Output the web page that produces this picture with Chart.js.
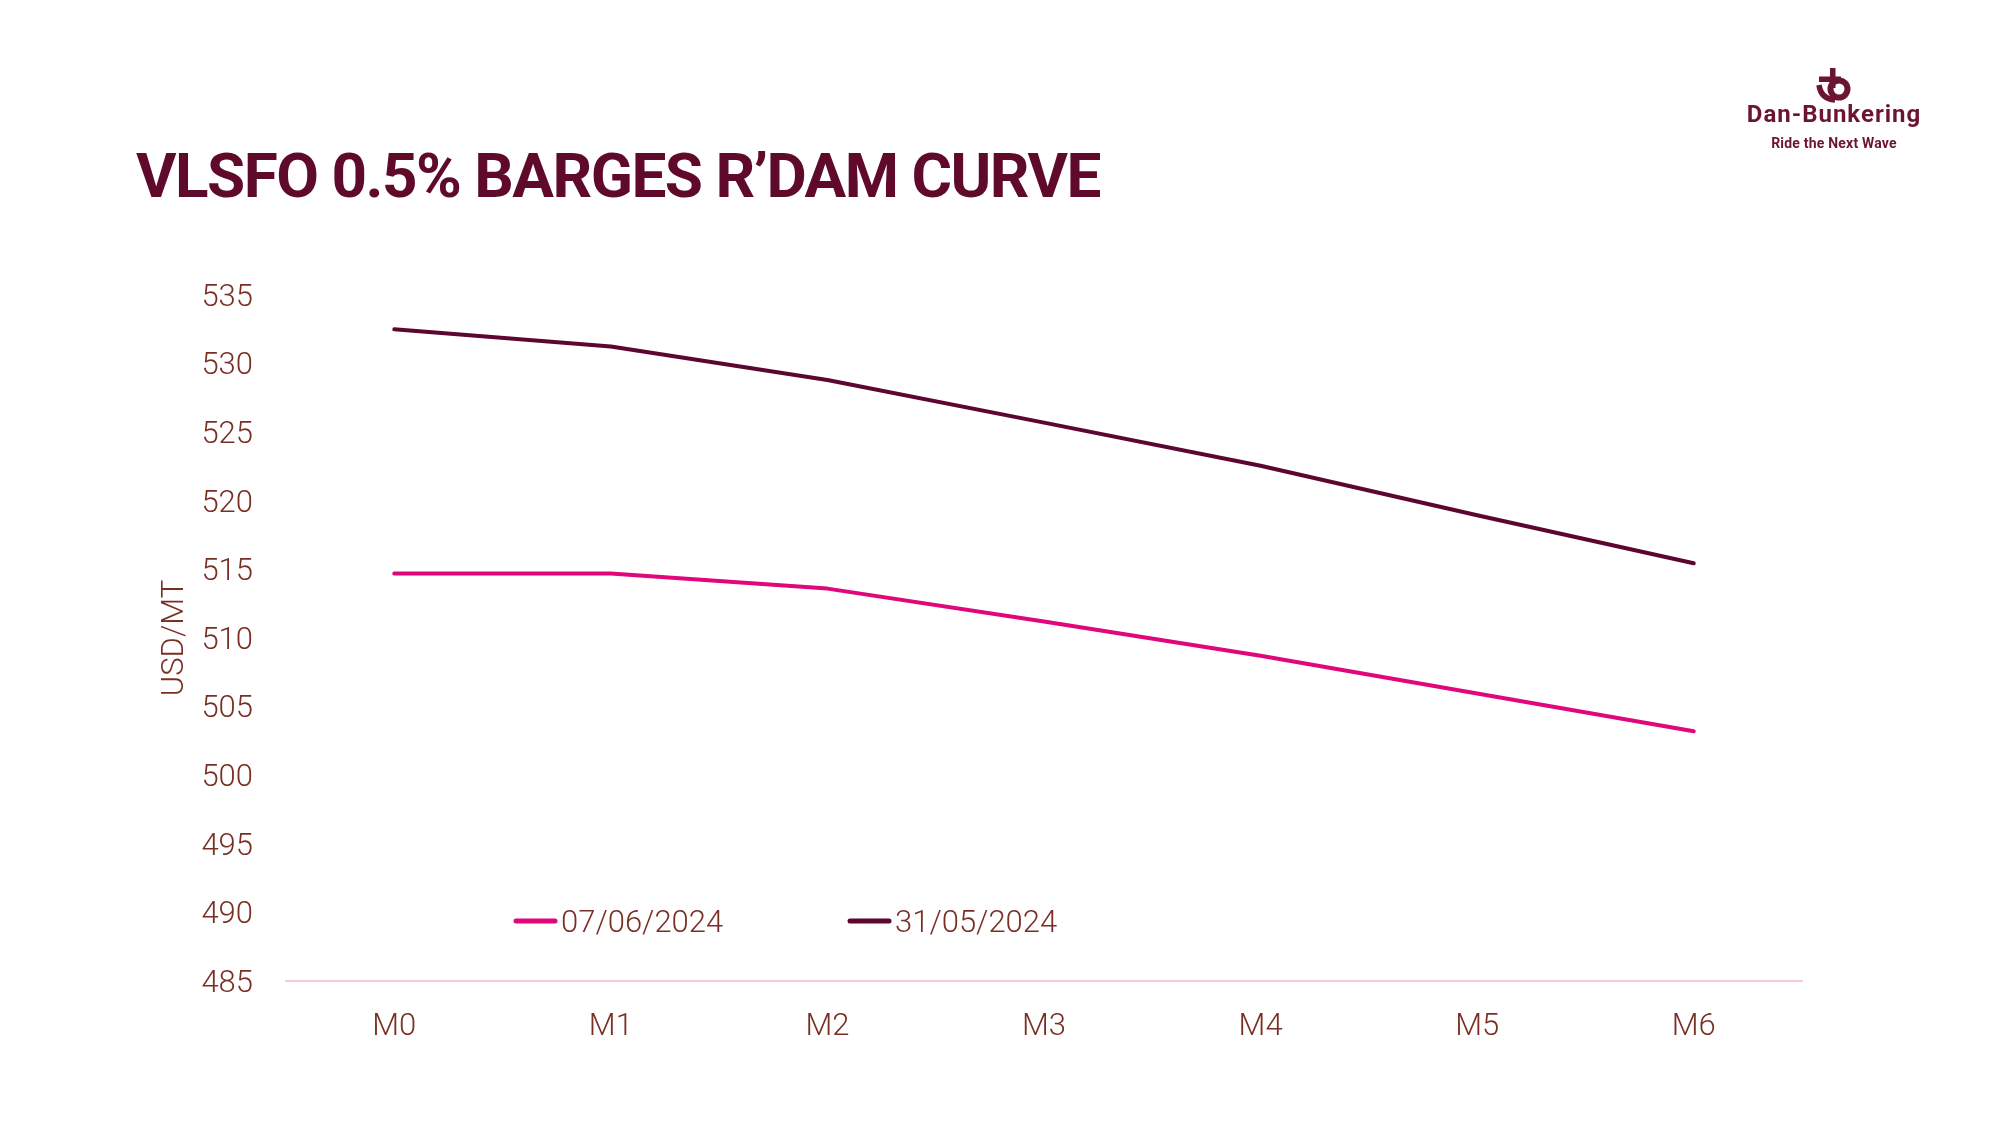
<!DOCTYPE html>
<html>
<head>
<meta charset="utf-8">
<title>VLSFO 0.5% BARGES R’DAM CURVE</title>
<script src="https://cdn.jsdelivr.net/npm/chart.js@4.4.1/dist/chart.umd.min.js"></script>
<style>
  html, body { margin: 0; padding: 0; background: #fff; }
  #wrap { position: relative; width: 2000px; height: 1125px; overflow: hidden; }
  #chart { position: absolute; left: 0; top: 0; }
  h1 {
    position: absolute; left: 136px; top: 145px; margin: 0;
    font: 700 62px/1 Roboto, sans-serif; letter-spacing: -1.5px;
    color: #5f0a2b; white-space: nowrap;
  }
  .logo { position: absolute; left: 1734px; width: 200px; text-align: center; color: #6b1434; font-family: Roboto, sans-serif; }
  .logo-icon { top: 68px; }
  .logo-name { top: 102px; font-weight: 700; font-size: 24px; line-height: 1; letter-spacing: 1px; }
  .logo-tag { top: 136px; font-weight: 700; font-size: 14px; line-height: 1; letter-spacing: 0.2px; }
</style>
</head>
<body>
<div id="wrap">
  <canvas id="chart" width="2000" height="1125"></canvas>
  <h1>VLSFO 0.5% BARGES R’DAM CURVE</h1>
  <div class="logo logo-icon">
    <svg width="36" height="35" viewBox="0 0 36 35">
      <rect x="14" y="0" width="5.5" height="20" fill="#6b1434"/>
      <rect x="3" y="8.5" width="22" height="5.5" fill="#6b1434"/>
      <circle cx="23" cy="21" r="8.5" fill="none" stroke="#6b1434" stroke-width="6"/>
      <path d="M3 17 Q5 31 19 32" fill="none" stroke="#6b1434" stroke-width="5.5"/>
    </svg>
  </div>
  <div class="logo logo-name">Dan-Bunkering</div>
  <div class="logo logo-tag">Ride the Next Wave</div>
</div>
<script>
// curve data
const months = ['M0', 'M1', 'M2', 'M3', 'M4', 'M5', 'M6'];
const curve0706 = [514.7, 514.7, 513.6, 511.2, 508.7, 505.95, 503.2];
const curve3105 = [532.5, 531.25, 528.8, 525.7, 522.55, 518.95, 515.45];
const seriesNames = ['07/06/2024', '31/05/2024'];
const yMin = 485;
const yMax = 535;
const yStep = 5;

const textColor = '#7a2f24';
const tickFont = { family: 'Roboto, sans-serif', size: 31, weight: 300 };

// legend sits inside the plot, low down, so draw it ourselves
const bottomLegend = {
  id: 'bottomLegend',
  afterDraw(chart, args, opts) {
    const { ctx } = chart;
    ctx.save();
    ctx.font = `300 ${opts.size}px ${opts.family}`;
    ctx.textBaseline = 'middle';
    ctx.textAlign = 'left';
    chart.data.datasets.forEach((ds, i) => {
      const x = opts.x[i];
      ctx.strokeStyle = ds.borderColor;
      ctx.lineWidth = 5;
      ctx.lineCap = 'round';
      ctx.beginPath();
      ctx.moveTo(x + 2, opts.y);
      ctx.lineTo(x + opts.boxWidth - 2, opts.y);
      ctx.stroke();
      ctx.fillStyle = opts.color;
      ctx.fillText(ds.label, x + opts.boxWidth + opts.gap, opts.y + 3);
    });
    ctx.restore();
  },
};

const ctx = document.getElementById('chart').getContext('2d');
// eslint-disable-next-line no-undef
new Chart(ctx, {
  type: 'line',
  data: {
    labels: months,
    datasets: [
      {
        label: seriesNames[0],
        data: curve0706,
        borderColor: '#e0077a',
      },
      {
        label: seriesNames[1],
        data: curve3105,
        borderColor: '#5c0630',
      },
    ],
  },
  options: {
    responsive: false,
    animation: false,
    layout: { padding: { left: 0, right: 198, top: 295, bottom: 0 } },
    elements: {
      line: { borderWidth: 4, tension: 0, borderCapStyle: 'round', borderJoinStyle: 'round' },
      point: { radius: 0, hoverRadius: 0 },
    },
    plugins: {
      legend: { display: false },
      tooltip: { enabled: false },
      bottomLegend: {
        x: [514, 848],
        y: 921,
        boxWidth: 43,
        gap: 4,
        color: textColor,
        family: 'Roboto, sans-serif',
        size: 31,
      },
    },
    scales: {
      x: {
        offset: true,
        grid: { display: false, drawTicks: false, tickLength: 0 },
        border: { display: true, color: '#f6c8da', width: 2 },
        ticks: { color: textColor, font: tickFont, padding: 28 },
        afterFit(scale) {
          scale.height = 144;
        },
      },
      y: {
        min: yMin,
        max: yMax,
        grid: { display: false, drawTicks: false, tickLength: 0 },
        border: { display: false },
        ticks: { stepSize: yStep, color: textColor, font: tickFont, padding: 33, labelOffset: 3 },
        title: {
          display: true,
          text: 'USD/MT',
          color: textColor,
          font: tickFont,
          padding: { top: 157, bottom: 0 },
        },
        afterFit(scale) {
          scale.width = 286;
        },
      },
    },
  },
  plugins: [bottomLegend],
});
</script>
</body>
</html>
